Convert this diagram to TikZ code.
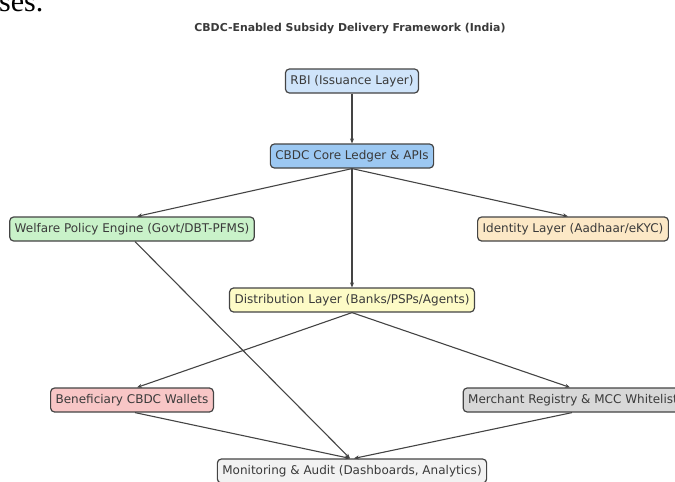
\documentclass[tikz,border=0pt]{standalone}
\usepackage{fontspec}
\setmainfont{DejaVu Sans}
\newfontfamily\serifpart{Liberation Serif}
\usetikzlibrary{arrows.meta}
\definecolor{cRBI}{HTML}{CFE4FA}
\definecolor{cCore}{HTML}{9CC8F2}
\definecolor{cWelf}{HTML}{C9F2C9}
\definecolor{cIdent}{HTML}{FCE8C6}
\definecolor{cDist}{HTML}{FDFBC6}
\definecolor{cBen}{HTML}{F8C6C6}
\definecolor{cMerch}{HTML}{D8D8D8}
\definecolor{cMon}{HTML}{F2F2F2}
\definecolor{edge}{HTML}{444444}
\definecolor{txt}{HTML}{3A3A3A}
\tikzset{
  x=1pt, y=-1pt,
  box/.style={draw=edge, line width=1.2pt, rounded corners=4pt, text=txt,
    font=\fontsize{12}{14}\selectfont, inner xsep=5pt, minimum height=24pt},
  conn/.style={draw=edge, line width=1.1pt, -{Stealth[length=5pt,width=4pt]}}
}
\begin{document}
\begin{tikzpicture}
\useasboundingbox (0,0) rectangle (675,482);
\clip (0,0) rectangle (675,482);
\node[anchor=base west, font=\serifpart\fontsize{30}{32}\selectfont, inner sep=0pt] (frag) at (-1,11) {ses.};
\node[font=\bfseries\fontsize{10.9}{13}\selectfont, text=txt] (title) at (350,29) {CBDC-Enabled Subsidy Delivery Framework (India)};
\node[box, fill=cRBI] (rbi) at (352,81) {RBI (Issuance Layer)};
\node[box, fill=cCore] (core) at (352,156) {CBDC Core Ledger \& APIs};
\node[box, fill=cWelf] (welf) at (132,229) {Welfare Policy Engine (Govt/DBT-PFMS)};
\node[box, fill=cIdent] (ident) at (573,229) {Identity Layer (Aadhaar/eKYC)};
\node[box, fill=cDist] (dist) at (352,300) {Distribution Layer (Banks/PSPs/Agents)};
\node[box, fill=cBen] (ben) at (132,400) {Beneficiary CBDC Wallets};
\node[box, fill=cMerch] (merch) at (573,400) {Merchant Registry \& MCC Whitelist};
\node[box, fill=cMon] (mon) at (352,471) {Monitoring \& Audit (Dashboards, Analytics)};
\draw[conn] (rbi.south) -- (core.north);
\draw[conn] (core.south) -- ([xshift=5pt]welf.north);
\draw[conn] (core.south) -- ([xshift=-5pt]ident.north);
\draw[conn] (core.south) -- (dist.north);
\draw[conn] ([xshift=3pt]welf.south) -- ([xshift=-2pt]mon.north);
\draw[conn] (dist.south) -- ([xshift=5pt]ben.north);
\draw[conn] (dist.south) -- ([xshift=-3pt]merch.north);
\draw[conn] ([xshift=3pt]ben.south) -- ([xshift=-2pt]mon.north);
\draw[conn] ([xshift=-1pt]merch.south) -- ([xshift=2pt]mon.north);
\end{tikzpicture}
\end{document}
